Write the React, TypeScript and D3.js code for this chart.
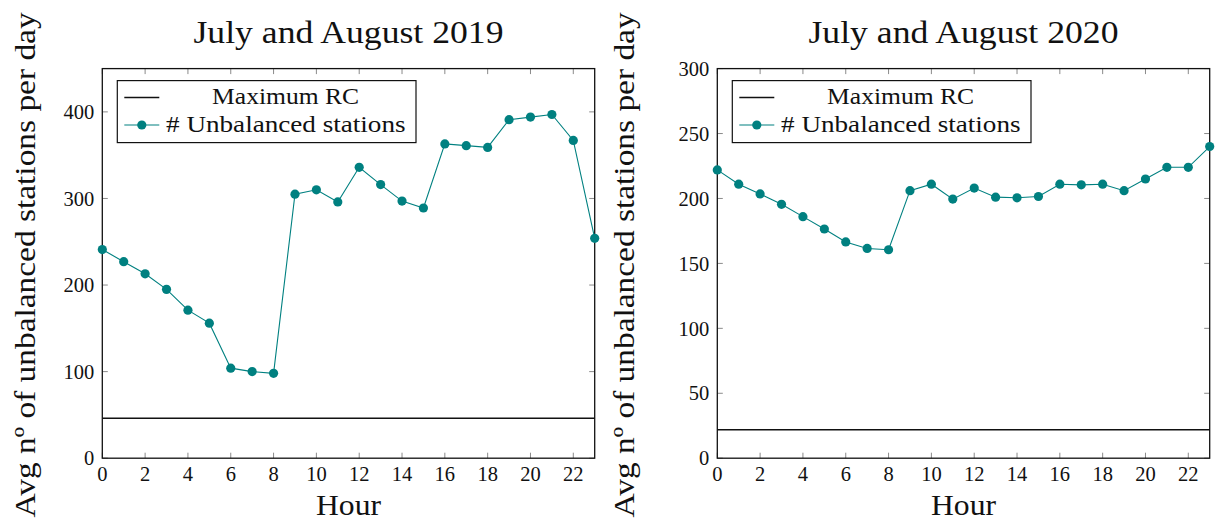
import React from "react";
import * as d3 from "d3";

// Hours of the day shown on the x axis
const hours: number[] = d3.range(0, 24);
const xTickValues: number[] = [0, 2, 4, 6, 8, 10, 12, 14, 16, 18, 20, 22];

// July and August 2019
const unbalanced2019: number[] = [
  241, 227, 213, 195, 171, 156, 104, 100, 98, 305, 310, 296,
  336, 316, 297, 289, 363, 361, 359, 391, 394, 397, 367, 254,
];
const maxRC2019 = 46;
const yTicks2019: number[] = [0, 100, 200, 300, 400];
const yMax2019 = 450;

// July and August 2020
const unbalanced2020: number[] = [
  222, 211, 203.5, 195.5, 186, 176.5, 166.5, 161.5, 160.5, 206, 211, 199.5,
  208, 201, 200.5, 201.5, 211, 210.5, 211, 206, 215, 224, 224, 240,
];
const maxRC2020 = 22;
const yTicks2020: number[] = [0, 50, 100, 150, 200, 250, 300];
const yMax2020 = 300;

const TEAL = "#008080";
const FONT = "'Liberation Serif', 'Times New Roman', serif";

interface PanelProps {
  left: number;
  title: string;
  values: number[];
  maxRC: number;
  yTicks: number[];
  yMax: number;
  yLabelX: number;
}

function Panel({ left, title, values, maxRC, yTicks, yMax, yLabelX }: PanelProps) {
  const width = 492.4;
  const top = 68.6;
  const bottom = 458.2;
  const x = d3.scaleLinear().domain([0, 23]).range([left, left + width]);
  const y = d3.scaleLinear().domain([0, yMax]).range([bottom, top]);
  const line = d3
    .line<number>()
    .x((_, i) => x(hours[i]))
    .y((d) => y(d));
  const tickLen = 5.5;
  const tickColor = "#8a8a8a";
  const cx = left + width / 2;
  const cy = (top + bottom) / 2;
  const legX = left + 15;
  const legY = 80.6;

  return (
    <g>
      <text
        x={cx}
        y={42.5}
        textAnchor="middle"
        fontFamily={FONT}
        fontSize={32}
        textLength={310}
        lengthAdjust="spacingAndGlyphs"
        fill="#111"
      >
        {title}
      </text>

      {/* ticks on all four sides, pointing inward */}
      {xTickValues.map((t) => (
        <g key={"xt" + t}>
          <line x1={x(t)} x2={x(t)} y1={bottom} y2={bottom - tickLen} stroke={tickColor} strokeWidth={1} />
          <line x1={x(t)} x2={x(t)} y1={top} y2={top + tickLen} stroke={tickColor} strokeWidth={1} />
          <text
            x={x(t)}
            y={480.5}
            textAnchor="middle"
            fontFamily={FONT}
            fontSize={20.5}
            fill="#111"
          >
            {t}
          </text>
        </g>
      ))}
      {yTicks.map((t) => (
        <g key={"yt" + t}>
          <line x1={left} x2={left + tickLen} y1={y(t)} y2={y(t)} stroke={tickColor} strokeWidth={1} />
          <line x1={left + width} x2={left + width - tickLen} y1={y(t)} y2={y(t)} stroke={tickColor} strokeWidth={1} />
          <text
            x={left - 8}
            y={y(t)}
            dy="0.35em"
            textAnchor="end"
            fontFamily={FONT}
            fontSize={20.5}
            fill="#111"
          >
            {t}
          </text>
        </g>
      ))}

      <rect x={left} y={top} width={width} height={bottom - top} fill="none" stroke="#111" strokeWidth={1.3} />

      {/* Maximum RC reference level */}
      <line x1={x(0)} x2={x(23)} y1={y(maxRC)} y2={y(maxRC)} stroke="#111" strokeWidth={1.5} />

      {/* Unbalanced stations series */}
      <path d={line(values) ?? ""} fill="none" stroke={TEAL} strokeWidth={1.1} />
      {values.map((v, i) => (
        <circle key={"p" + i} cx={x(hours[i])} cy={y(v)} r={4.6} fill={TEAL} />
      ))}

      {/* legend */}
      <rect x={legX} y={legY} width={298.7} height={62} fill="#fff" stroke="#111" strokeWidth={1.2} />
      <line x1={left + 22} x2={left + 57} y1={97.4} y2={97.4} stroke="#111" strokeWidth={1.5} />
      <text
        x={left + 183.3}
        y={104.3}
        textAnchor="middle"
        fontFamily={FONT}
        fontSize={23.5}
        textLength={147}
        lengthAdjust="spacingAndGlyphs"
        fill="#111"
      >
        Maximum RC
      </text>
      <line x1={left + 22} x2={left + 57} y1={125} y2={125} stroke={TEAL} strokeWidth={1.1} />
      <circle cx={left + 39.5} cy={125} r={4.6} fill={TEAL} />
      <text
        x={left + 183.5}
        y={131.7}
        textAnchor="middle"
        fontFamily={FONT}
        fontSize={23.5}
        textLength={239.5}
        lengthAdjust="spacingAndGlyphs"
        fill="#111"
      >
        # Unbalanced stations
      </text>

      {/* axis labels */}
      <text
        x={cx}
        y={515}
        textAnchor="middle"
        fontFamily={FONT}
        fontSize={29.6}
        textLength={65}
        lengthAdjust="spacingAndGlyphs"
        fill="#111"
      >
        Hour
      </text>
      <text
        transform={`translate(${yLabelX},${cy + 1.5}) rotate(-90)`}
        textAnchor="middle"
        fontFamily={FONT}
        fontSize={29.6}
        textLength={505}
        lengthAdjust="spacingAndGlyphs"
        fill="#111"
      >
        Avg nº of unbalanced stations per day
      </text>
    </g>
  );
}

export default function App() {
  return (
    <svg
      width={1215}
      height={527}
      style={{ position: "absolute", left: 0, top: 0, background: "#fff" }}
    >
      <rect width={1215} height={527} fill="#fff" />
      <Panel
        left={102.3}
        title="July and August 2019"
        values={unbalanced2019}
        maxRC={maxRC2019}
        yTicks={yTicks2019}
        yMax={yMax2019}
        yLabelX={35}
      />
      <Panel
        left={717.3}
        title="July and August 2020"
        values={unbalanced2020}
        maxRC={maxRC2020}
        yTicks={yTicks2020}
        yMax={yMax2020}
        yLabelX={634}
      />
    </svg>
  );
}
